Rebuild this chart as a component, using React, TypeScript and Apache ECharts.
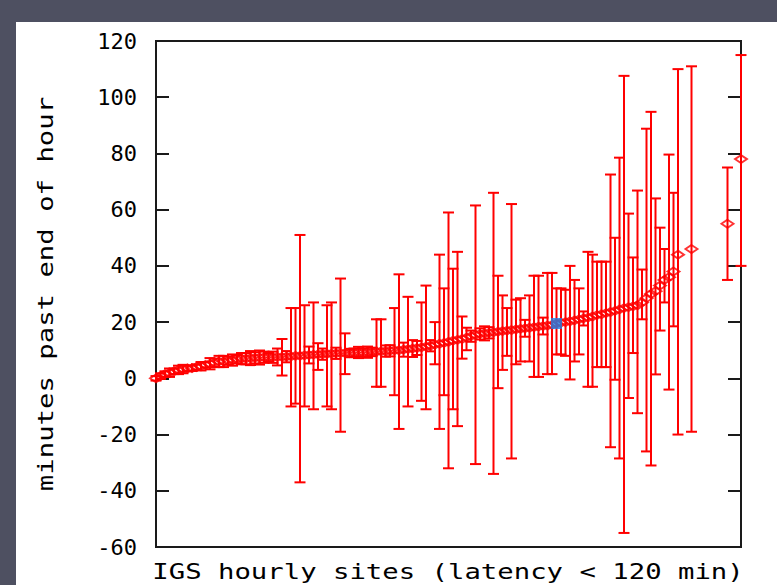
import React, { useEffect, useRef } from "react";
import * as echarts from "echarts";

// site rank (x), mean latency, lower / upper end of the error bar (minutes)
const ranks = [
  0, 1, 2, 3, 4, 5, 6, 7, 8, 9, 10, 11, 12, 13, 14, 15, 16, 17, 18, 19,
  20, 21, 22, 23, 24, 25, 26, 27, 28, 29, 30, 31, 32, 33, 34, 35, 36, 37, 38, 39,
  40, 41, 42, 43, 44, 45, 46, 47, 48, 49, 50, 51, 52, 53, 54, 55, 56, 57, 58, 59,
  60, 61, 62, 63, 64, 65, 66, 67, 68, 69, 70, 71, 72, 73, 74, 75, 76, 77, 78, 79,
  80, 81, 82, 83, 84, 85, 86, 87, 88, 89, 90, 91, 92, 93, 94, 95, 96, 97, 98, 99,
  100, 101, 102, 103, 104, 105, 106, 107, 108, 109, 110, 111, 112, 113, 114, 115, 116, 119, 127, 130,
];
const means = [
  0, 0.8, 1.5, 2, 2.5, 3, 3.3, 3.5, 3.6, 4, 4.3, 4.8, 5.2, 5.5, 6, 6, 6.3, 6.5, 6.8, 7,
  7, 7.2, 7.3, 7.4, 7.5, 7.5, 7.5, 7.6, 7.6, 7.7, 7.8, 8, 8, 8.2, 8.3, 8.4, 8.5, 8.6, 8.7, 8.8,
  8.9, 9, 9, 9, 9.1, 9.2, 9.2, 9.3, 9.4, 9.5, 9.6, 9.7, 9.8, 10, 10, 10.2, 10.4, 10.6, 10.8, 11,
  11.3, 11.6, 12, 12.3, 12.6, 13, 13.4, 13.7, 14, 14.5, 15, 15.5, 15.8, 16, 16.2, 16.4, 16.6, 16.8, 17, 17.2,
  17.4, 17.6, 17.8, 18, 18.2, 18.4, 18.6, 18.8, 19, 19.5, 19.8, 20, 20.3, 20.6, 21, 21.3, 21.6, 22, 22.5, 22.8,
  23.2, 23.6, 24, 24.5, 25, 25.3, 25.6, 26, 27, 28.5, 30, 31, 33, 35, 36, 38, 44, 46, 55, 78,
];
const lows = [
  -0.8, -0.2, 0.5, 0.5, 1.5, 1.5, 1.8, 2.5, 2.6, 3, 2.8, 3.8, 3.2, 4, 4, 4, 4.8, 4.5, 5.3, 5,
  5, 4.7, 5.3, 4.9, 5.5, 6, 5.5, 4.6, 1, 5.7, -10, -9, -37, -10, 5.3, -11, 3, 6.6, -10, -11,
  6.9, -19, 1.5, 7.5, 7.6, 7.2, 7.7, 7.3, 7.9, -3, -3, 7.7, 7.8, -6, -18, 7.7, -10, 7.6, 8.3, -8,
  -11, 9.6, 5, -18, -6, -32, -11, -17, 7, 10, 13, -30.5, 13.8, 13.5, 14.2, -34, -3.5, 3, 8, -28.5,
  5, 6, 14.8, 6, 0.5, 0.5, 15.6, 1.5, 1.5, 8.5, 8.5, 8, -0.4, 6, 8.5, 18.8, -3, -3, 4, 4,
  4, -24.5, -0.5, -28.5, -55, -7, 9, -12.4, 21, -26, -31, 1.4, 17, 27, -4, 18.5, -20, -19, 35, 40,
];
const highs = [
  0.8, 1.8, 2.5, 3.5, 3.5, 4.5, 4.8, 4.5, 4.6, 5, 5.8, 5.8, 7.2, 7, 8, 8, 7.8, 8.5, 8.3, 9,
  9, 9.7, 9.3, 9.9, 9.5, 9, 9.5, 10.6, 14, 9.7, 25, 25, 51, 26, 11.3, 27, 12.5, 10.6, 26, 27,
  10.9, 35.5, 16, 10.5, 10.6, 11.2, 10.7, 11.3, 10.9, 21, 21, 11.7, 11.8, 25, 37, 12.7, 29, 13.6, 13.3, 27,
  33, 13.6, 20, 44, 32, 59, 39, 45, 22, 18, 17, 61.5, 17.8, 18.5, 18.2, 66, 36.5, 29.5, 25, 62,
  28, 28.5, 20.8, 29.5, 36.5, 36.5, 21.6, 37.5, 37.5, 32, 32, 31.5, 40, 35, 32, 23.8, 45, 44, 41.5, 41.5,
  41.5, 72.5, 50, 78.5, 107.6, 58.6, 43, 66.8, 38.7, 88.8, 94.8, 64, 53.6, 46, 79.6, 66, 110, 111, 75, 115,
];
// the highlighted site (blue square)
const highlightRanks = [89];
const highlightMeans = [19.5];

const yMin = -60;
const yMax = 120;
const yStep = 20;
const xMax = 130;
const xTitle = "IGS hourly sites (latency < 120 min)";
const yTitle = "minutes past end of hour";

const RED = "#ff0000";
const INK = "#1a1a1a";
const FONT = "DejaVu Sans Mono";

export default function App() {
  const ref = useRef<HTMLDivElement>(null);
  useEffect(() => {
    if (!ref.current) return;
    const chart = echarts.init(ref.current, null, { renderer: "svg" });
    const errData = ranks.map((r, i) => [r, lows[i], highs[i]]);
    const meanData = ranks.map((r, i) => [r, means[i]]);
    const hiData = highlightRanks.map((r, i) => [r, highlightMeans[i]]);
    const axisLine = { show: true, onZero: false, lineStyle: { color: INK, width: 2 } };
    chart.setOption({
      animation: false,
      backgroundColor: "transparent",
      textStyle: { fontFamily: FONT },
      grid: {
        left: 156,
        right: 36,
        top: 41,
        bottom: 38,
        show: true,
        borderColor: INK,
        borderWidth: 2,
        backgroundColor: "#ffffff",
      },
      xAxis: {
        type: "value",
        min: 0,
        max: xMax,
        axisLine,
        axisTick: { show: false },
        axisLabel: { show: false },
        splitLine: { show: false },
      },
      yAxis: [
        {
          type: "value",
          min: yMin,
          max: yMax,
          interval: yStep,
          position: "left",
          axisLine,
          axisTick: { show: true, inside: true, length: 13, lineStyle: { color: INK, width: 2 } },
          axisLabel: { color: "#000", fontSize: 22, fontFamily: FONT, margin: 19 },
          splitLine: { show: false },
        },
        {
          type: "value",
          min: yMin,
          max: yMax,
          interval: yStep,
          position: "right",
          axisLine,
          axisTick: { show: true, inside: true, length: 13, lineStyle: { color: INK, width: 2 } },
          axisLabel: { show: false },
          splitLine: { show: false },
        },
      ],
      graphic: [
        {
          type: "text",
          x: 448,
          y: 572,
          scaleX: 1.3,
          style: {
            text: xTitle,
            fill: "#000",
            fontSize: 21,
            fontFamily: FONT,
            textAlign: "center",
            textVerticalAlign: "middle",
          },
        },
        {
          type: "text",
          x: 46,
          y: 294,
          rotation: Math.PI / 2,
          scaleX: 1.3,
          style: {
            text: yTitle,
            fill: "#000",
            fontSize: 21,
            fontFamily: FONT,
            textAlign: "center",
            textVerticalAlign: "middle",
          },
        },
      ],
      series: [
        {
          type: "custom",
          name: "error",
          data: errData,
          encode: { x: 0, y: [1, 2] },
          z: 3,
          renderItem: (params: any, api: any) => {
            const x = api.value(0);
            const pLo = api.coord([x, api.value(1)]);
            const pHi = api.coord([x, api.value(2)]);
            const cap = 5.5;
            const style = { stroke: RED, lineWidth: 2, fill: null };
            return {
              type: "group",
              children: [
                { type: "line", shape: { x1: pLo[0], y1: pLo[1], x2: pHi[0], y2: pHi[1] }, style },
                { type: "line", shape: { x1: pLo[0] - cap, y1: pLo[1], x2: pLo[0] + cap, y2: pLo[1] }, style },
                { type: "line", shape: { x1: pHi[0] - cap, y1: pHi[1], x2: pHi[0] + cap, y2: pHi[1] }, style },
              ],
            };
          },
        },
        {
          type: "scatter",
          name: "mean",
          data: meanData,
          symbol: "diamond",
          symbolSize: [12, 8],
          z: 4,
          itemStyle: { color: "rgba(255,255,255,0)", borderColor: RED, borderWidth: 2 },
        },
        {
          type: "scatter",
          name: "highlight",
          data: hiData,
          symbol: "rect",
          symbolSize: [11, 11],
          z: 5,
          itemStyle: { color: "#1f80e6" },
        },
      ],
    });
    return () => chart.dispose();
  }, []);

  return (
    <div style={{ position: "fixed", left: 0, top: 0, width: 777, height: 585, background: "#4e5061", overflow: "hidden" }}>
      <div style={{ position: "absolute", left: 16, top: 22, right: 0, bottom: 0, background: "#ffffff" }} />
      <div ref={ref} style={{ position: "absolute", left: 0, top: 0, width: 777, height: 585 }} />
    </div>
  );
}
